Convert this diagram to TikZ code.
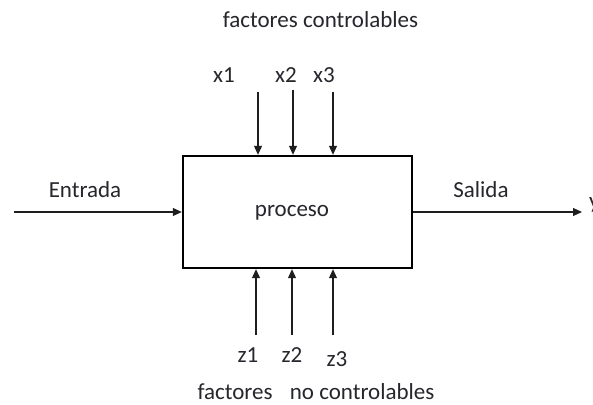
\documentclass[tikz,border=0pt]{standalone}
\usepackage{fontspec}
\setmainfont{Carlito}
\usetikzlibrary{arrows.meta}
\definecolor{txt}{RGB}{38,38,44}
\definecolor{ln}{RGB}{30,30,30}
\tikzset{
  lbl/.style={anchor=base, inner sep=0pt, text=txt, font=\fontsize{23}{27}\selectfont},
  flow/.style={draw=ln, line width=1.1pt, -{Triangle[length=9pt,width=8pt]}},
  procbox/.style={draw=black, line width=2.4pt, minimum width=229pt, minimum height=112pt, inner sep=0pt}
}
\begin{document}
\begin{tikzpicture}[x=1pt,y=1pt]
\useasboundingbox[fill=white] (0,0) rectangle (593,404);
% box
\node[procbox] (box) at (297.5,192) {};
\node[lbl] (proc) at (292,187) {proceso};
% titles
\node[lbl] (tcon) at (320.5,376) {factores controlables};
\node[lbl] (tncon) at (316,5) {factores\hspace{0.75em}no controlables};
% input / output
\coordinate (inl) at (14,192);
\coordinate (outr) at (582,192);
\draw[flow] (inl) -- (box.west |- inl);
\draw[flow] (box.east |- outr) -- (outr);
\node[lbl] (ent) at (85,206) {Entrada};
\node[lbl] (sal) at (481,206) {Salida};
\node[lbl, anchor=base west] (yout) at (589,195) {y};
% controllable factors
\coordinate (xa) at (258,312);
\coordinate (xb) at (293,314);
\coordinate (xc) at (333,312);
\foreach \c in {xa,xb,xc} \draw[flow] (\c) -- (box.north -| \c);
\node[lbl] (x1) at (224,321) {x1};
\node[lbl] (x2) at (286,321) {x2};
\node[lbl] (x3) at (324,321) {x3};
% uncontrollable factors
\coordinate (za) at (256,69);
\coordinate (zb) at (292,69);
\coordinate (zc) at (333,69);
\foreach \c in {za,zb,zc} \draw[flow] (\c) -- (box.south -| \c);
\node[lbl] (z1) at (248,42) {z1};
\node[lbl] (z2) at (292,42) {z2};
\node[lbl] (z3) at (337,38) {z3};
\end{tikzpicture}
\end{document}
